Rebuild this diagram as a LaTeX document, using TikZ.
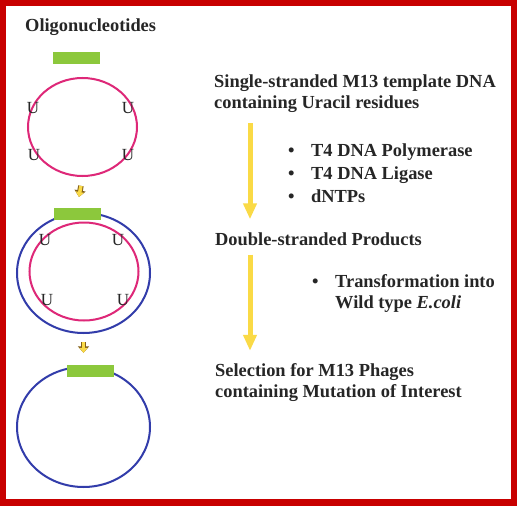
\documentclass[tikz,border=0pt]{standalone}
\usepackage{fontspec}
\setmainfont{Liberation Serif}
\usetikzlibrary{positioning,arrows.meta,shapes.geometric,calc}

\definecolor{framered}{RGB}{200,0,0}
\definecolor{ssring}{RGB}{222,40,120}
\definecolor{dsring}{RGB}{50,60,170}
\definecolor{primer}{RGB}{140,200,60}
\definecolor{flow}{RGB}{250,218,70}
\definecolor{flowedge}{RGB}{130,95,25}

\begin{document}
\begin{tikzpicture}[
    x=1pt, y=-1pt,
    every node/.style={font=\fontsize{18.4}{21}\selectfont\bfseries, text=black!85},
    ss/.style   ={draw=ssring, line width=2pt, ellipse, inner sep=0pt,
                  minimum width=109pt, minimum height=98pt},
    ds/.style   ={draw=dsring, line width=2pt, ellipse, inner sep=0pt,
                  minimum width=133pt, minimum height=120pt},
    oligo/.style={fill=primer, inner sep=0pt, minimum width=47pt, minimum height=12pt},
    ubase/.style={font=\fontsize{17}{17}\selectfont, text=black!85, inner sep=0pt},
    label/.style={anchor=west, align=left, inner sep=0pt},
    flowarrow/.style={draw=flow, line width=5pt, -{Triangle[length=16pt,width=13pt]}},
    smallarrow/.style={draw=flow, line width=3.5pt, -{Triangle[length=5pt,width=8pt]},
                  preaction={draw=flowedge, line width=5.5pt, -{Triangle[length=6.5pt,width=11pt]}}},
]
% frame
\useasboundingbox (0,0) rectangle (517,506);
\fill[framered] (0,0) rectangle (517,506);
\fill[white] (6,6) rectangle (511,499);

% left column: the three plasmid stages
\node[anchor=west, inner sep=0pt] (title) at (25,27) {Oligonucleotides};
\node[oligo] (oligo1) at (76.5,57.5) {};
\node[ss] (ring1) at (82.5,127) {};
\node[ubase] (u1) at (33,108) {U};
\node[ubase] (u2) at (128,108) {U};
\node[ubase] (u3) at (34,155) {U};
\node[ubase] (u4) at (128,155) {U};

\node[ds] (outer2) at (83.5,273) {};
\node[ss] (ring2) at (84,271.5) {};
\node[oligo] (oligo2) at (77,214) {};
\node[ubase] (u5) at (45,240) {U};
\node[ubase] (u6) at (118,240) {U};
\node[ubase] (u7) at (47,300) {U};
\node[ubase] (u8) at (123,300) {U};

\node[ds] (ring3) at (83.5,427) {};
\node[oligo] (oligo3) at (90,371) {};

\draw[smallarrow, shorten <=9pt, shorten >=11pt] (ring1.south) -- (oligo2.north);
\draw[smallarrow, shorten <=8pt, shorten >=12pt] (outer2.south) -- (outer2.south |- oligo3.north);

% right column: steps
\node[label] (single) at (214,94) {Single-stranded M13 template DNA\\containing Uracil residues};
\node[label] (enzymes) at (288,173) {\makebox[23pt][l]{\textbullet}T4 DNA Polymerase\\[2pt]
    \makebox[23pt][l]{\textbullet}T4 DNA Ligase\\[2pt]
    \makebox[23pt][l]{\textbullet}dNTPs};
\node[label] (double) at (215,239) {Double-stranded Products};
\node[label] (transform) at (312,294) {\makebox[23pt][l]{\textbullet}Transformation into\\
    \hspace{23pt}Wild type \textit{E.coli}};
\node[label] (select) at (215,383) {Selection for M13 Phages\\containing Mutation of Interest};

\draw[flowarrow, shorten <=10pt, shorten >=13pt] ([xshift=36pt]single.south west) -- ([xshift=35pt]double.north west);
\draw[flowarrow, shorten <=9pt, shorten >=13pt] ([xshift=35pt]double.south west) -- ([xshift=35pt]select.north west);
\end{tikzpicture}
\end{document}
